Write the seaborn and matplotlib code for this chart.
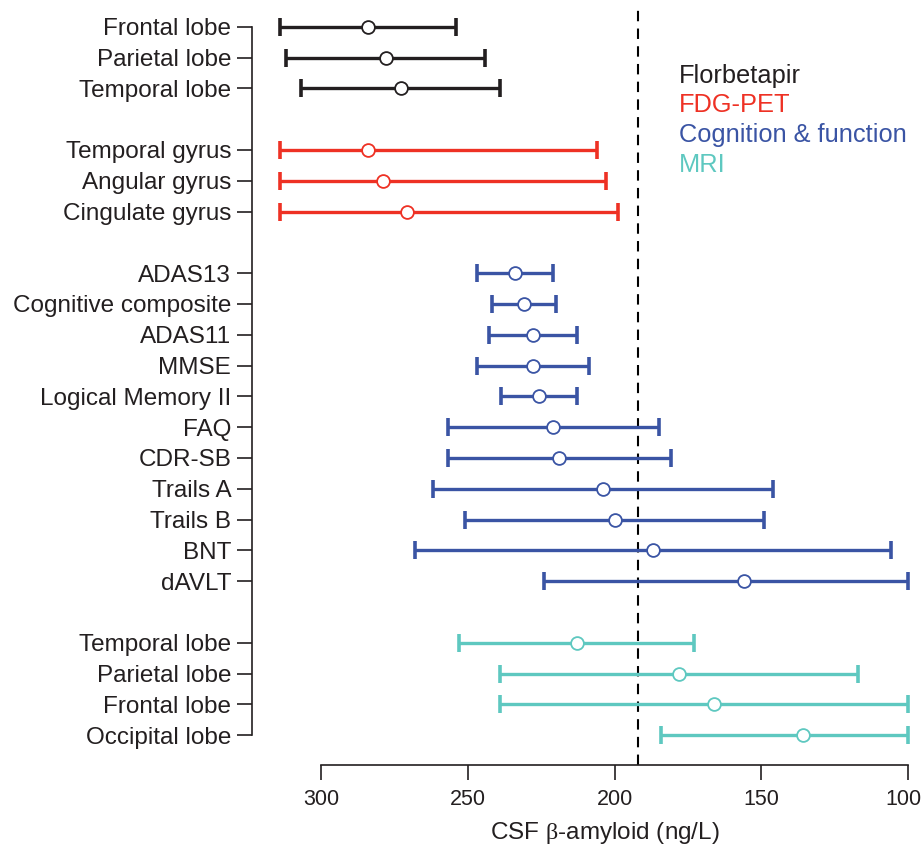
import numpy as np
import pandas as pd
import seaborn as sns
import matplotlib.pyplot as plt
from matplotlib.transforms import ScaledTranslation

# values (CSF beta-amyloid, ng/L): estimate, upper and lower bound
flor_labels = ["Frontal lobe", "Parietal lobe", "Temporal lobe"]
flor_est = [284.0, 278.0, 272.9]
flor_hi = [313.9, 312.1, 307.0]
flor_lo = [253.9, 244.0, 239.1]

fdg_labels = ["Temporal gyrus", "Angular gyrus", "Cingulate gyrus"]
fdg_est = [284.0, 278.9, 270.9]
fdg_hi = [313.9, 313.9, 313.9]
fdg_lo = [205.9, 202.9, 198.8]

cog_labels = ["ADAS13", "Cognitive composite", "ADAS11", "MMSE", "Logical Memory II",
              "FAQ", "CDR-SB", "Trails A", "Trails B", "BNT", "dAVLT"]
cog_est = [234.0, 230.9, 227.9, 227.9, 225.9, 220.8, 218.9, 203.9, 199.8, 186.8, 155.9]
cog_hi = [246.8, 241.9, 242.8, 246.9, 238.8, 256.9, 256.9, 261.9, 250.9, 267.9, 224.0]
cog_lo = [220.9, 220.0, 212.9, 208.8, 212.9, 184.9, 180.8, 145.8, 148.9, 105.8, 100.0]

mri_labels = ["Temporal lobe", "Parietal lobe", "Frontal lobe", "Occipital lobe"]
mri_est = [212.9, 177.9, 166.1, 135.8]
mri_hi = [253.0, 239.0, 239.0, 184.1]
mri_lo = [172.9, 116.9, 100.0, 100.0]

group_names = ["Florbetapir", "FDG-PET", "Cognition & function", "MRI"]
palette = {"Florbetapir": "#231f20", "FDG-PET": "#ee3124",
           "Cognition & function": "#3a54a4", "MRI": "#5ec8c0"}
cutoff = 192.0
x_ticks = [300, 250, 200, 150, 100]

# build one long table, with an empty row between groups
groups = [(flor_labels, flor_est, flor_hi, flor_lo),
          (fdg_labels, fdg_est, fdg_hi, fdg_lo),
          (cog_labels, cog_est, cog_hi, cog_lo),
          (mri_labels, mri_est, mri_hi, mri_lo)]
rows = []
pos = 0
for name, (labels, est, hi, lo) in zip(group_names, groups):
    for l, e, h, w in zip(labels, est, hi, lo):
        rows.append(dict(group=name, label=l, est=e, hi=h, lo=w, pos=pos))
        pos += 1
    pos += 1
df = pd.DataFrame(rows)

sns.set_style("ticks")
plt.rcParams['font.family'] = ['Liberation Sans', 'DejaVu Sans']
plt.rcParams['mathtext.fontset'] = 'custom'
plt.rcParams['mathtext.rm'] = 'Liberation Serif'
ink = "#231f20"

fig = plt.figure(figsize=(9.24, 8.5), dpi=100)
ax = fig.add_axes([252 / 924, 0.1, (916 - 252) / 924, (765 - 5) / 850])

ax.axvline(cutoff, color="black", lw=1.5, ls=(0, (5, 3.5)), zorder=1)

for name in group_names:
    sub = df[df.group == name]
    col = palette[name]
    ax.errorbar(sub.est, sub.pos, xerr=[sub.est - sub.lo, sub.hi - sub.est],
                fmt="none", ecolor=col, elinewidth=2.4, capsize=6.4,
                capthick=2.6, zorder=2)
    sns.scatterplot(data=sub, x="est", y="pos", s=85, marker="o",
                    facecolor="white", edgecolor=col, linewidth=1.3,
                    zorder=3, ax=ax, legend=False)

ax.set_yticks(df.pos, df.label)
ax.set_xticks(x_ticks)
ax.set_xlim(323.6, 97.2)
ax.set_ylim(23.97, -0.705)

sns.despine(ax=ax)
ax.spines["left"].set_bounds(0, df.pos.max())
ax.spines["bottom"].set_bounds(min(x_ticks), max(x_ticks))
for s in ["left", "bottom"]:
    ax.spines[s].set_linewidth(1.2)
    ax.spines[s].set_color(ink)
ax.tick_params(axis="both", length=10.5, width=1.2, color=ink,
               labelcolor=ink, pad=4.5)
ax.tick_params(axis="y", labelsize=17.5)
ax.tick_params(axis="x", labelsize=15.5, pad=7)
# keep the last tick label inside the figure edge
last = ax.get_xticklabels()[-1]
last.set_transform(last.get_transform() + ScaledTranslation(-4 / 100, 0, fig.dpi_scale_trans))

ax.set_xlabel(r"CSF $\mathrm{\beta}$-amyloid (ng/L)", fontsize=17.5, color=ink)
ax.xaxis.set_label_coords((605 - 252) / 664, -(833 - 765) / 760, transform=ax.transAxes)
ax.xaxis.label.set_va("center")
ax.set_ylabel("")

# coloured text legend
for i, name in enumerate(group_names):
    fig.text(679 / 924, 1 - (76 + 29.5 * i) / 850, name, color=palette[name],
             fontsize=18.3, va="center", ha="left")

fig.savefig("out.png", dpi=100)
